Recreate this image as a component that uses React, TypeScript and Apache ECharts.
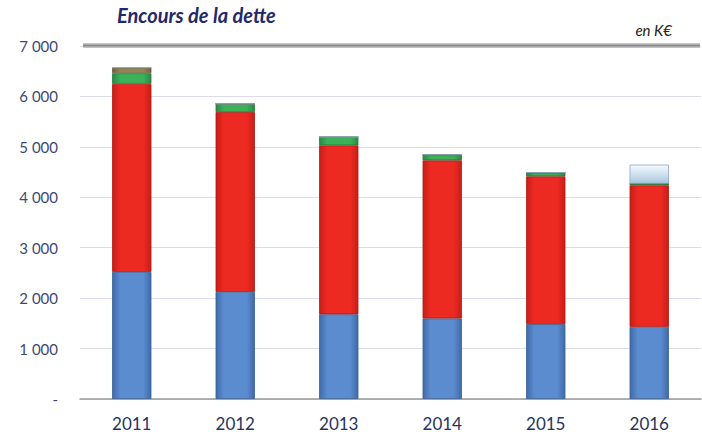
import React, { useEffect, useRef } from "react";
import * as echarts from "echarts";

const years = ["2011", "2012", "2013", "2014", "2015", "2016"];
const blueValues = [2520, 2125, 1680, 1598, 1485, 1432];
const redValues = [3730, 3565, 3350, 3135, 2931, 2806];
const greenValues = [210, 165, 165, 112, 74, 32];
const oliveValues = [110, 0, 0, 0, 0, 0];
const lightBlueValues = [0, 0, 0, 0, 0, 378];
const yTicks = [0, 1000, 2000, 3000, 4000, 5000, 6000, 7000];

const hGrad = (edge: string, mid: string) =>
  new echarts.graphic.LinearGradient(0, 0, 1, 0, [
    { offset: 0, color: edge },
    { offset: 0.2, color: mid },
    { offset: 0.8, color: mid },
    { offset: 1, color: edge },
  ]);

export default function App() {
  const ref = useRef<HTMLDivElement>(null);
  useEffect(() => {
    if (!ref.current) return;
    const chart = echarts.init(ref.current, null, { renderer: "svg" });
    const fmt = (v: number) =>
      v === 0 ? "-" : String(v).replace(/\B(?=(\d{3})+(?!\d))/g, " ");
    const mk = (name: string, data: number[], color: any, border: string) => ({
      name,
      type: "bar",
      stack: "total",
      data,
      barWidth: "38%",
      itemStyle: { color, borderColor: border, borderWidth: 0.8 },
    });
    chart.setOption({
      animation: false,
      backgroundColor: "#ffffff",
      textStyle: { fontFamily: "Lato" },
      grid: { left: 80, right: 1, top: 46, bottom: 39 },
      xAxis: {
        type: "category",
        data: years,
        axisTick: { show: false },
        axisLine: { lineStyle: { color: "#9a9a9a", width: 1.5 } },
        axisLabel: { color: "#263462", fontSize: 17, margin: 16, fontFamily: "Lato" },
      },
      yAxis: {
        type: "value",
        min: yTicks[0],
        max: yTicks[yTicks.length - 1],
        interval: 1000,
        axisLine: { show: false },
        axisTick: { show: false },
        splitLine: { lineStyle: { color: "#dcdbea", width: 1.2 } },
        axisLabel: {
          color: "#3d4878",
          fontSize: 15,
          margin: 22,
          fontFamily: "Lato",
          formatter: fmt,
        },
      },
      graphic: [
        {
          type: "rect",
          shape: { x: 83, y: 43, width: 617, height: 5 },
          style: {
            fill: new echarts.graphic.LinearGradient(0, 0, 0, 1, [
              { offset: 0, color: "#d8d8d8" },
              { offset: 0.5, color: "#8c8c8c" },
              { offset: 1, color: "#d0d0d0" },
            ]),
          },
          z: 10,
        },
        {
          type: "text",
          left: 117,
          top: 5,
          style: {
            text: "Encours de la dette",
            fontSize: 20,
            fontWeight: "bold",
            fontStyle: "italic",
            fill: "#1f2a6b",
            fontFamily: "Lato",
          },
        },
        {
          type: "text",
          right: 30,
          top: 22,
          style: {
            text: "en K€",
            fontSize: 15,
            fontStyle: "italic",
            fill: "#222222",
            fontFamily: "Lato",
          },
        },
      ],
      series: [
        mk("blue", blueValues, hGrad("#3f6aa8", "#5b8ccf"), "#3a5f96"),
        mk("red", redValues, hGrad("#c81e18", "#ec2a22"), "#b01a14"),
        mk("green", greenValues, hGrad("#2a8a44", "#3bb15a"), "#2a7a40"),
        mk("olive", oliveValues, hGrad("#6f6240", "#948552"), "#6a5c3c"),
        mk("lightblue", lightBlueValues, new echarts.graphic.LinearGradient(0, 0, 0, 1, [
          { offset: 0, color: "#f4f9fd" },
          { offset: 0.5, color: "#cfe2f0" },
          { offset: 1, color: "#a9c6dc" },
        ]), "#8aa8c0"),
      ],
    });
    return () => chart.dispose();
  }, []);
  return (
    <div
      ref={ref}
      style={{ position: "absolute", left: 0, top: 0, width: 702, height: 438 }}
    />
  );
}
